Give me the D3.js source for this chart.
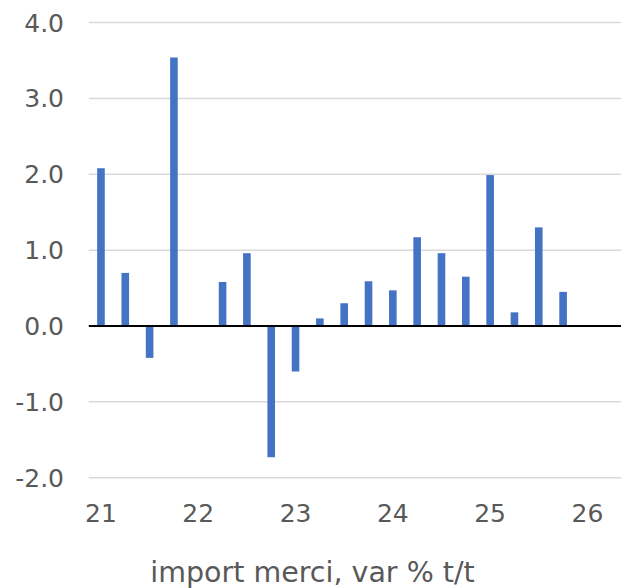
<!DOCTYPE html>
<html>
<head>
<meta charset="utf-8">
<script src="https://cdn.jsdelivr.net/npm/d3@7"></script>
<style>
  body { margin: 0; background: #fff; }
  svg { display: block; font-family: "DejaVu Sans", Verdana, sans-serif; }
</style>
</head>
<body>
<div id="chart"></div>
<script>
// quarters 21Q1 .. 26Q2
var quarters = ["21Q1","21Q2","21Q3","21Q4","22Q1","22Q2","22Q3","22Q4",
                "23Q1","23Q2","23Q3","23Q4","24Q1","24Q2","24Q3","24Q4",
                "25Q1","25Q2","25Q3","25Q4","26Q1","26Q2"];
var values = [2.08, 0.70, -0.42, 3.54, null, 0.58, 0.96, -1.73,
              -0.60, 0.10, 0.30, 0.59, 0.47, 1.17, 0.96, 0.65,
              1.99, 0.18, 1.30, 0.45, null, null];
var yearLabels = ["21","22","23","24","25","26"];
var yTicks = [-2, -1, 0, 1, 2, 3, 4];
var title = "import merci, var % t/t";

var W = 621, H = 588;
var plotLeft = 88.8, plotRight = 623.9, plotTop = 22.6, plotBottom = 477.7;

var svg = d3.select("#chart").append("svg")
    .attr("width", W)
    .attr("height", H);

var pIn = 1 - 7.6 / ((plotRight - plotLeft) / quarters.length);
var x = d3.scaleBand()
    .domain(quarters)
    .range([plotLeft, plotRight])
    .paddingInner(pIn)
    .paddingOuter(pIn / 2);

var y = d3.scaleLinear()
    .domain([-2, 4])
    .range([plotBottom, plotTop]);

// gridlines
svg.append("g")
  .selectAll("line")
  .data(yTicks.filter(function(d) { return d !== 0; }))
  .enter().append("line")
    .attr("x1", plotLeft)
    .attr("x2", W)
    .attr("y1", function(d) { return y(d); })
    .attr("y2", function(d) { return y(d); })
    .attr("stroke", "#d9d9d9")
    .attr("stroke-width", 1.5);

// y labels (plain hyphen minus, like the original)
svg.append("g")
  .selectAll("text")
  .data(yTicks)
  .enter().append("text")
    .attr("x", 64)
    .attr("y", function(d) { return y(d) + 9; })
    .attr("text-anchor", "end")
    .attr("font-size", 25)
    .attr("fill", "#595959")
    .text(function(d) { return d.toFixed(1); });

// bars
svg.append("g")
  .selectAll("rect")
  .data(quarters.map(function(q, i) { return {q: q, v: values[i]}; })
          .filter(function(d) { return d.v !== null; }))
  .enter().append("rect")
    .attr("x", function(d) { return x(d.q); })
    .attr("width", x.bandwidth())
    .attr("y", function(d) { return y(Math.max(0, d.v)); })
    .attr("height", function(d) { return Math.abs(y(d.v) - y(0)); })
    .style("fill", "#4472c4");

// zero axis line
svg.append("line")
    .attr("x1", plotLeft)
    .attr("x2", W)
    .attr("y1", y(0))
    .attr("y2", y(0))
    .attr("stroke", "#000")
    .attr("stroke-width", 2);

// x labels at first quarter of each year
svg.append("g")
  .selectAll("text")
  .data(yearLabels)
  .enter().append("text")
    .attr("x", function(d) { return x(d + "Q1") + x.bandwidth() / 2; })
    .attr("y", 522)
    .attr("text-anchor", "middle")
    .attr("font-size", 25)
    .attr("fill", "#595959")
    .text(function(d) { return d; });

svg.append("text")
    .attr("x", 312.5)
    .attr("y", 582)
    .attr("text-anchor", "middle")
    .attr("font-size", 28.5)
    .attr("fill", "#595959")
    .text(title);
</script>
</body>
</html>
